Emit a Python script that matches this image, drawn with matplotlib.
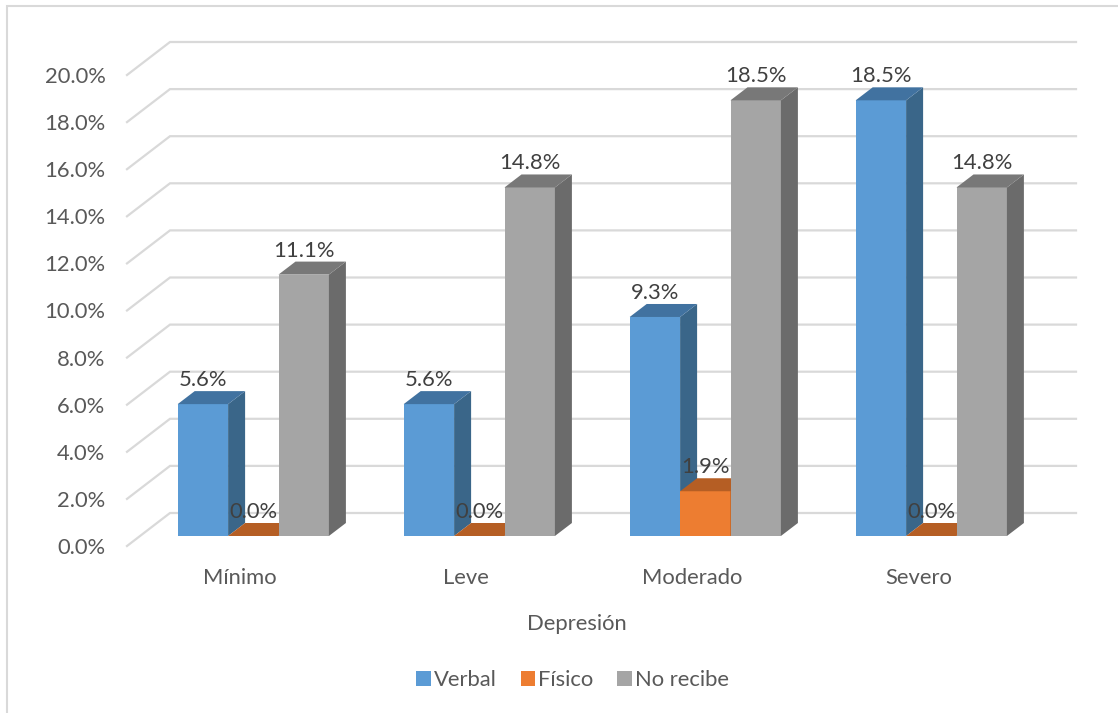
"""Depresion por tipo de violencia: barras 3D simuladas con matplotlib."""

import matplotlib
matplotlib.use("Agg")
import matplotlib.pyplot as plt
from matplotlib.patches import Patch, Polygon

categories = ["Mínimo", "Leve", "Moderado", "Severo"]
series_names = ["Verbal", "Físico", "No recibe"]
verbal = [5.6, 5.6, 9.3, 18.5]
fisico = [0.0, 0.0, 1.9, 0.0]
no_recibe = [11.1, 14.8, 18.5, 14.8]
y_ticks = [0, 2, 4, 6, 8, 10, 12, 14, 16, 18, 20]
x_title = "Depresión"

FRONT = ["#5b9bd5", "#ed7d31", "#a5a5a5"]
SIDE = ["#3a6689", "#ad5a23", "#6b6b6b"]
TOP = ["#4172a0", "#b55e24", "#787878"]
GRID = "#d9d9d9"
TICK = "#595959"
LABEL = "#404040"
FS = 15.8

W, H = 1118, 713
X0, PX_X = 253.3, 226    # pixel of first category centre, pixels per category
Y0, PX_Y = 536, 23.55    # pixel of 0 on the bar plane, pixels per percent
BAR_W = 50.4 / PX_X
DX, DY = 17 / PX_X, 13 / PX_Y

plt.rcParams["font.family"] = ["Lato", "DejaVu Sans"]
fig = plt.figure(figsize=(W / 100, H / 100), dpi=100)
ax = fig.add_axes([0, 0, 1, 1])
ax.set_xlim(-X0 / PX_X, (W - X0) / PX_X)
ax.set_ylim((Y0 - H) / PX_Y, Y0 / PX_Y)
ax.axis("off")


def px(x):
    return (x - X0) / PX_X


def py(y):
    return (Y0 - y) / PX_Y


# chart frame: only the left and top edges fall inside the picture
ax.plot([px(7), px(7), px(W)], [py(H), py(6), py(6)], color=GRID, lw=1.5, zorder=1,
        solid_joinstyle="miter")

# gridlines on side wall and back wall
for t in y_ticks:
    front_y = t - 10 / PX_Y
    back_y = t + 23 / PX_Y
    ax.plot([px(127), px(170), px(1076)], [front_y, back_y, back_y],
            color=GRID, lw=1.6, zorder=2, solid_joinstyle="miter")
    ax.text(px(105.5), t - 12 / PX_Y, f"{t:.1f}%", ha="right", va="center",
            fontsize=FS, color=TICK, zorder=6)

values = [verbal, fisico, no_recibe]
for s, vals in enumerate(values):
    for c, v in enumerate(vals):
        left = c + (s - 1.5) * BAR_W
        right = left + BAR_W
        ax.bar(left, v, width=BAR_W, align="edge", color=FRONT[s], zorder=3)
        ax.add_patch(Polygon([(right, 0), (right + DX, DY), (right + DX, v + DY), (right, v)],
                             closed=True, fc=SIDE[s], ec="none", zorder=3))
        ax.add_patch(Polygon([(left, v), (left + DX, v + DY), (right + DX, v + DY), (right, v)],
                             closed=True, fc=TOP[s], ec="none", zorder=3))
        ax.text(left + BAR_W / 2, v + 24 / PX_Y, f"{v:.1f}%", ha="center", va="center",
                fontsize=FS, color=LABEL, zorder=7)

for c, name in enumerate(categories):
    ax.text(c - 13 / PX_X, py(578.5), name, ha="center", va="center",
            fontsize=FS, color=TICK)

ax.text(px(577), py(623.5), x_title, ha="center", va="center", fontsize=FS, color=TICK)

handles = [Patch(fc=FRONT[i], ec="none", label=series_names[i]) for i in range(3)]
ax.legend(handles=handles, ncol=3, frameon=False, fontsize=FS, labelcolor=TICK,
          loc="center", bbox_to_anchor=(572.5 / W, 1 - 680 / H), handlelength=0.68,
          handleheight=0.68, handletextpad=0.12, columnspacing=1.08)

fig.savefig("out.png", dpi=100)
